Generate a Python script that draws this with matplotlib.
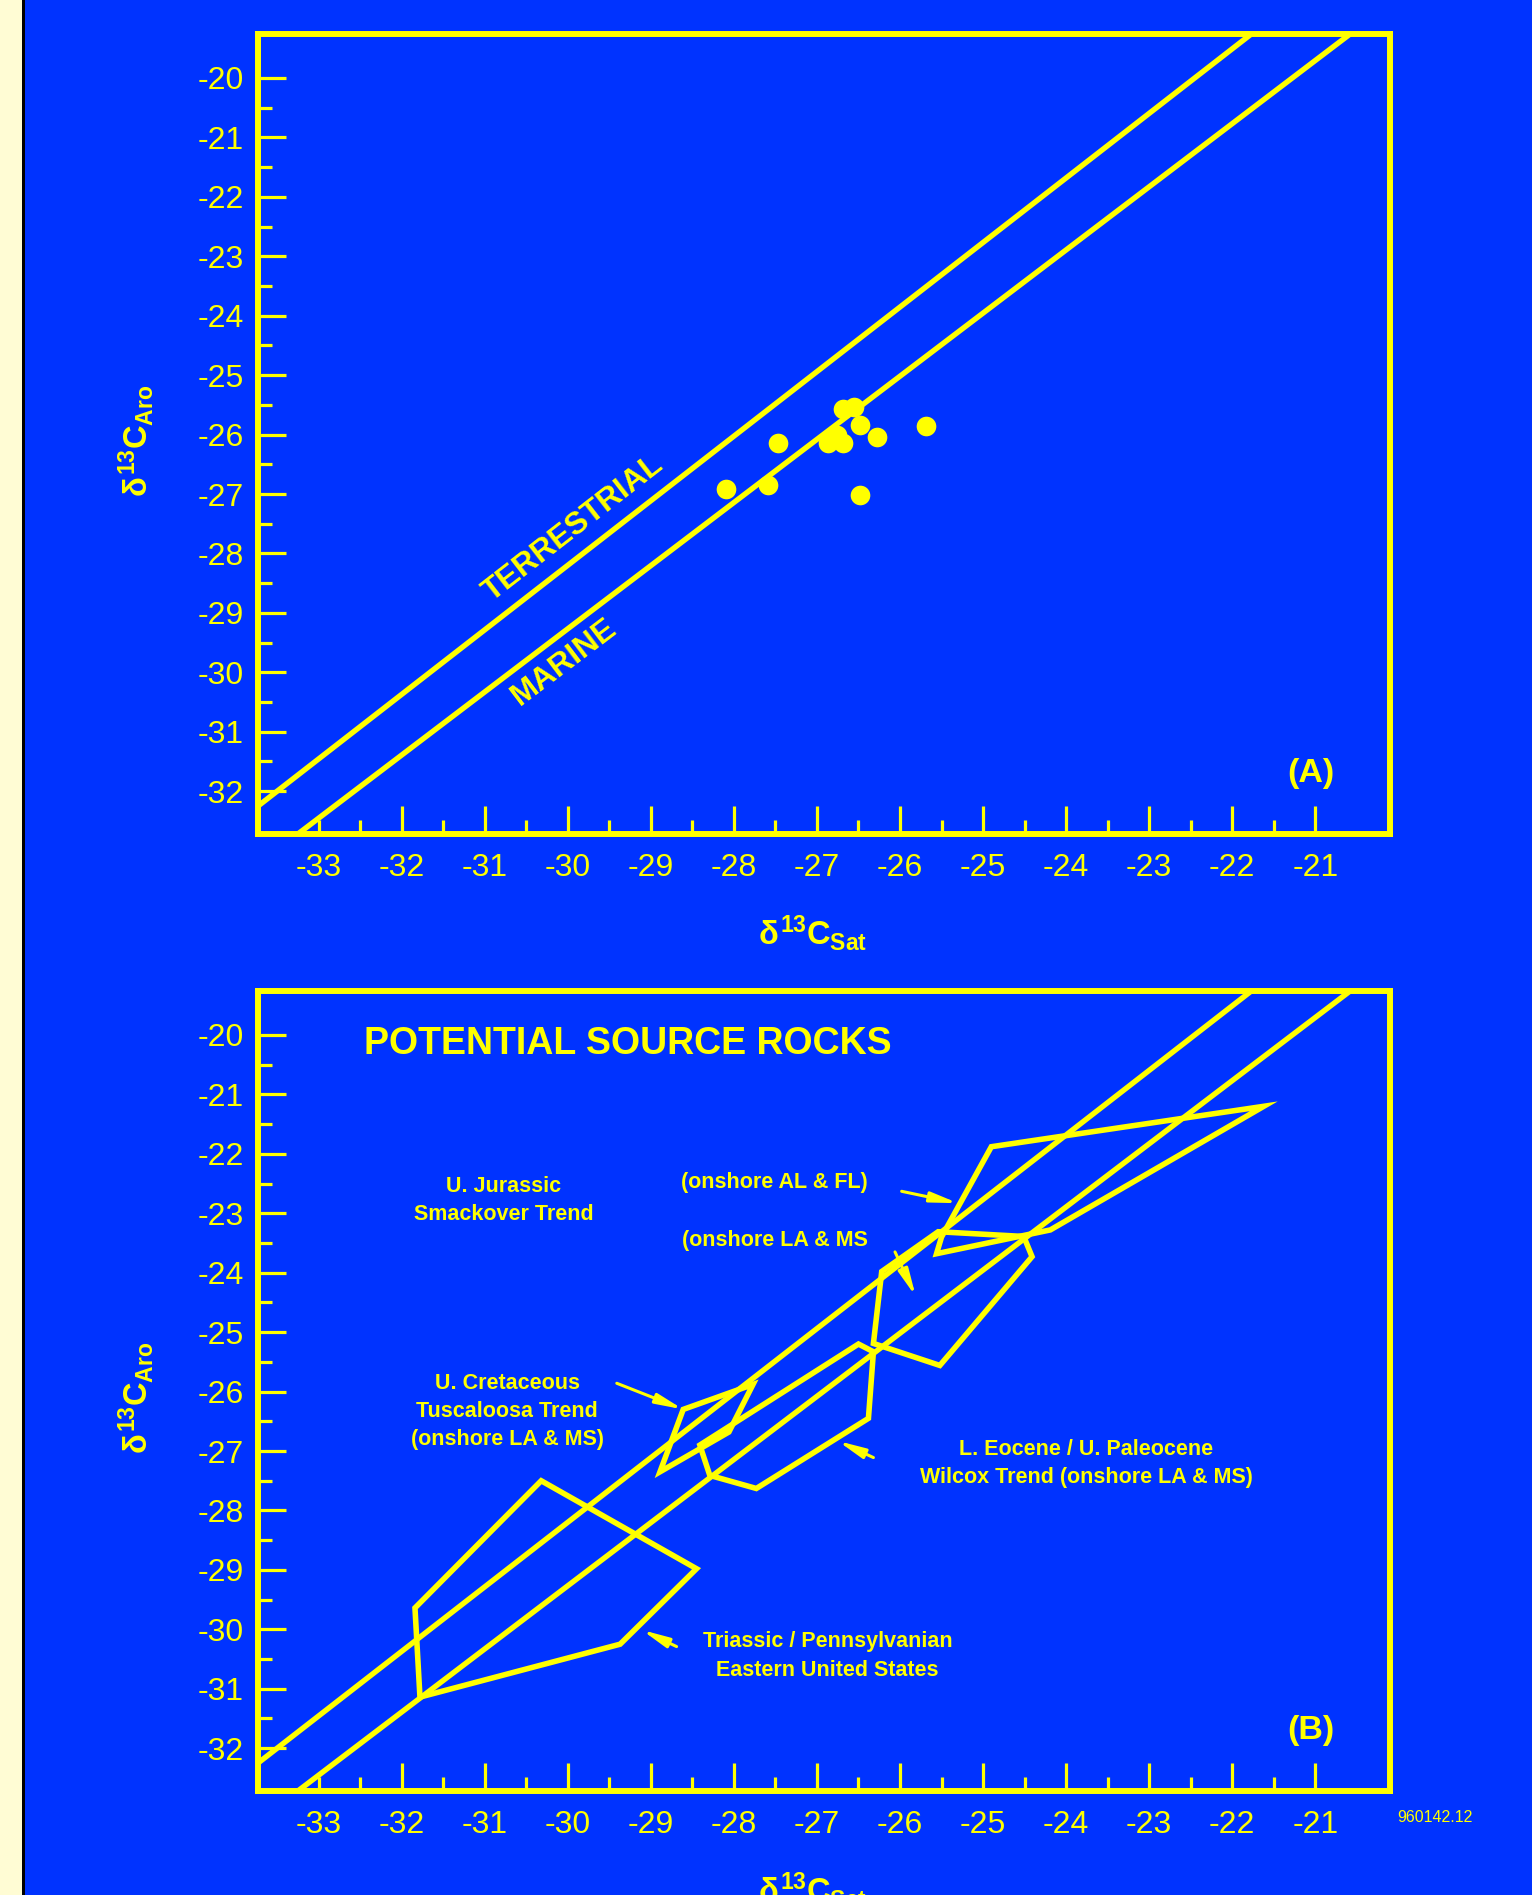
import numpy as np
import matplotlib
matplotlib.use("Agg")
import matplotlib.pyplot as plt
from matplotlib.patches import Polygon, Rectangle

BLUE = "#0033FF"
YELLOW = "#FFFF00"
CREAM = "#FFFCD4"

plt.rcParams["font.family"] = ["Liberation Sans", "DejaVu Sans"]
plt.rcParams["axes.unicode_minus"] = False
plt.rcParams["mathtext.fontset"] = "custom"
plt.rcParams["mathtext.rm"] = "Liberation Sans:bold"
plt.rcParams["mathtext.it"] = "Liberation Sans:bold"
plt.rcParams["mathtext.bf"] = "Liberation Sans:bold"

# axis window (per mil)
sat_lim = (-33.73, -20.10)
aro_lim = (-32.72, -19.26)

# terrestrial / marine dividing lines (end points)
terr_sat = [-33.73, -21.77]
terr_aro = [-32.25, -19.26]
marine_sat = [-33.25, -20.58]
marine_aro = [-32.72, -19.26]

# oil samples, panel A
oil_sat = [-26.69, -26.55, -26.48, -26.28, -25.69, -27.47,
           -26.87, -26.76, -26.69, -28.10, -27.59, -26.48]
oil_aro = [-25.57, -25.54, -25.84, -26.04, -25.86, -26.14,
           -26.14, -26.01, -26.14, -26.92, -26.85, -27.02]

# source rock fields, panel B
triassic_sat = [-30.32, -28.45, -29.37, -31.78, -31.84]
triassic_aro = [-27.50, -28.98, -30.25, -31.14, -29.64]
tuscaloosa_sat = [-28.61, -27.77, -28.06, -28.89]
tuscaloosa_aro = [-26.30, -25.88, -26.68, -27.35]
wilcox_sat = [-28.41, -26.50, -26.32, -26.38, -27.73, -28.29]
wilcox_aro = [-26.90, -25.20, -25.33, -26.45, -27.63, -27.41]
smk_lams_sat = [-26.22, -25.54, -24.51, -24.41, -25.52, -26.32]
smk_lams_aro = [-23.98, -23.31, -23.39, -23.73, -25.56, -25.19]
smk_alfl_sat = [-24.90, -21.62, -24.19, -25.56, -25.50]
smk_alfl_aro = [-21.88, -21.20, -23.28, -23.68, -23.40]

field_labels = [
    "U. Jurassic\nSmackover Trend",
    "(onshore AL & FL)",
    "(onshore LA & MS",
    "U. Cretaceous\nTuscaloosa Trend\n(onshore LA & MS)",
    "L. Eocene / U. Paleocene\nWilcox Trend (onshore LA & MS)",
    "Triassic / Pennsylvanian\nEastern United States",
]
label_sat = [-30.77, -27.51, -27.51, -30.73, -23.76, -26.87]
label_aro = [-22.79, -22.49, -23.45, -26.33, -27.21, -30.45]

arrow_tail_sat = [-25.98, -26.06, -29.41, -26.32, -28.69]
arrow_tail_aro = [-22.63, -23.65, -25.86, -27.11, -30.29]
arrow_head_sat = [-25.30, -25.81, -28.61, -26.75, -29.11]
arrow_head_aro = [-22.83, -24.40, -26.30, -26.83, -30.01]


def setup_axes(ax, tag):
    ax.set_facecolor(BLUE)
    ax.set_xlim(sat_lim)
    ax.set_ylim(aro_lim)
    for sp in ax.spines.values():
        sp.set_color(YELLOW)
        sp.set_linewidth(4.3)
    ax.set_xticks(np.arange(-33, -20))
    ax.set_xticks(np.arange(-32.5, -21), minor=True)
    ax.set_yticks(np.arange(-32, -19))
    ax.set_yticks(np.arange(-31.5, -20), minor=True)
    ax.tick_params(which="both", direction="in", colors=YELLOW, width=2.3,
                   labelsize=23, top=False, right=False)
    ax.tick_params(which="major", length=20)
    ax.tick_params(which="minor", length=10)
    ax.tick_params(axis="x", pad=14)
    ax.tick_params(axis="y", pad=10)
    # first x tick is drawn short
    ax.xaxis.get_major_ticks()[0].tick1line.set_markersize(10)

    ax.set_xlabel(r"$\delta^{13}C_{Sat}$", fontsize=23.5, color=YELLOW)
    ax.set_ylabel(r"$\delta^{13}C_{Aro}$", fontsize=23.5, color=YELLOW)
    ax.xaxis.label.set_verticalalignment("center")
    ax.yaxis.label.set_verticalalignment("center")
    ax.xaxis.set_label_coords(0.49, -0.124)
    ax.yaxis.set_label_coords(-0.108, 0.491)

    ax.plot(terr_sat, terr_aro, color=YELLOW, lw=3.9, solid_capstyle="butt")
    ax.plot(marine_sat, marine_aro, color=YELLOW, lw=3.9, solid_capstyle="butt")

    ax.text(-21.05, -31.70, tag, fontsize=24.5, fontweight="bold", color=YELLOW,
            ha="center", va="center")


fig = plt.figure(figsize=(15.32, 18.95), dpi=100, facecolor=BLUE)
fig.patches.append(Rectangle((0, 0), 22 / 1532, 1, transform=fig.transFigure,
                             facecolor=CREAM, edgecolor="none"))
fig.patches.append(Rectangle((22 / 1532, 0), 3 / 1532, 1, transform=fig.transFigure,
                             facecolor="black", edgecolor="none"))

ax_a = fig.add_axes([258 / 1532, 1 - 834 / 1895, 1132 / 1532, 800 / 1895])
ax_b = fig.add_axes([258 / 1532, 1 - 1791 / 1895, 1132 / 1532, 800 / 1895])
setup_axes(ax_a, "(A)")
setup_axes(ax_b, "(B)")

# panel A: oils
ax_a.scatter(oil_sat, oil_aro, s=200, color=YELLOW, linewidths=0, zorder=3)


def line_angle(ax, xs, ys):
    p = ax.transData.transform(np.column_stack([xs, ys]))
    return np.degrees(np.arctan2(p[1, 1] - p[0, 1], p[1, 0] - p[0, 0]))


ax_a.text(-29.93, -27.58, "TERRESTRIAL", fontsize=22.5, fontweight="bold",
          color=YELLOW, ha="center", va="center",
          rotation=line_angle(ax_a, terr_sat, terr_aro), rotation_mode="anchor")
ax_a.text(-30.04, -29.83, "MARINE", fontsize=22.5, fontweight="bold",
          color=YELLOW, ha="center", va="center",
          rotation=line_angle(ax_a, marine_sat, marine_aro), rotation_mode="anchor")

# panel B: source rock fields
fields = [
    (triassic_sat, triassic_aro),
    (tuscaloosa_sat, tuscaloosa_aro),
    (wilcox_sat, wilcox_aro),
    (smk_lams_sat, smk_lams_aro),
    (smk_alfl_sat, smk_alfl_aro),
]
for fs, fa in fields:
    ax_b.add_patch(Polygon(np.column_stack([fs, fa]), closed=True, fill=False,
                           edgecolor=YELLOW, lw=4.0, joinstyle="miter", zorder=3))

ax_b.text(-32.45, -20.32, "POTENTIAL SOURCE ROCKS", fontsize=27, fontweight="bold",
          color=YELLOW, ha="left", va="baseline")

for txt, x, y in zip(field_labels, label_sat, label_aro):
    ax_b.text(x, y, txt, fontsize=15.5, fontweight="bold", color=YELLOW,
              ha="center", va="center", multialignment="center", linespacing=1.45)

for tx, ty, hx, hy in zip(arrow_tail_sat, arrow_tail_aro, arrow_head_sat, arrow_head_aro):
    ax_b.annotate("", xy=(hx, hy), xytext=(tx, ty),
                  arrowprops=dict(arrowstyle="-|>,head_length=0.8,head_width=0.15",
                                  color=YELLOW, lw=2.2, shrinkA=0, shrinkB=0,
                                  mutation_scale=20))

fig.text(1435 / 1532, 1 - 1818 / 1895, "960142.12", fontsize=11.5, color=YELLOW,
         ha="center", va="center")

fig.savefig("out.png", dpi=100, facecolor=BLUE)
